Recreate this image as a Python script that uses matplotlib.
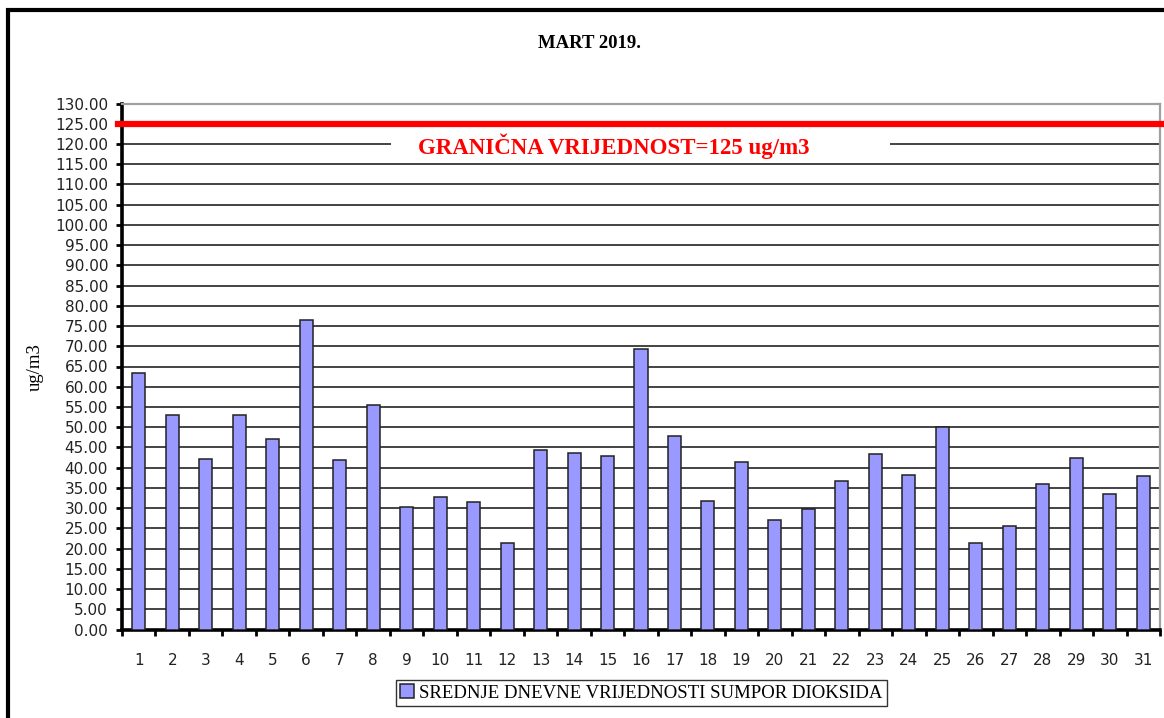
import numpy as np
import matplotlib
matplotlib.use("Agg")
import matplotlib.pyplot as plt
from matplotlib.patches import Rectangle

# Daily mean SO2 values, March 2019
days = list(range(1, 32))
values = [63.4, 53.0, 42.2, 53.0, 47.0, 76.6, 41.9, 55.4, 30.2, 32.7,
          31.5, 21.4, 44.3, 43.7, 42.8, 69.3, 47.9, 31.8, 41.4, 27.0,
          29.8, 36.8, 43.4, 38.3, 50.0, 21.3, 25.5, 35.9, 42.5, 33.5, 38.0]
LIMIT = 125

title = "MART 2019."
limit_label = "GRANIČNA VRIJEDNOST=125 ug/m3"
series_label = "SREDNJE DNEVNE VRIJEDNOSTI SUMPOR DIOKSIDA"
y_label = "ug/m3"

serif = ["Liberation Serif", "DejaVu Serif"]
sans = ["DejaVu Sans"]

fig = plt.figure(figsize=(11.64, 7.18), dpi=100)
ax = fig.add_axes([122 / 1164, 1 - 629.5 / 718, 1038 / 1164, 526 / 718])

# bars
bars = ax.bar(days, values, width=0.39, color="#9999ff", edgecolor="#222222",
              linewidth=1.1, zorder=3, label=series_label)

ax.set_xlim(0.5, 31.5)
ax.set_ylim(0, 130)
ax.set_yticks(np.arange(0, 131, 5))
ax.set_yticklabels([f"{v:.2f}" for v in np.arange(0, 131, 5)],
                   family=sans, fontsize=11, color="#222222")
ax.set_xticks(days)
ax.set_xticklabels([str(d) for d in days], family=sans, fontsize=11,
                   color="#222222")
ax.set_xticks(np.arange(0.5, 32, 1), minor=True)

ax.tick_params(axis="y", which="major", length=4, width=2, direction="out",
               pad=6, color="black")
ax.tick_params(axis="x", which="major", length=0, pad=17)
ax.tick_params(axis="x", which="minor", length=4, width=2, direction="out",
               color="black")

ax.set_axisbelow(True)
ax.yaxis.grid(True, color="#111111", linewidth=1.1)

for side in ["left", "bottom"]:
    ax.spines[side].set_color("black")
    ax.spines[side].set_linewidth(2.6)
for side in ["top", "right"]:
    ax.spines[side].set_color("#a0a0a0")
    ax.spines[side].set_linewidth(1.6)

# limit line
ax.plot([-0.004, 1.01], [LIMIT, LIMIT], transform=ax.get_yaxis_transform(),
        color="red", linewidth=4.5, clip_on=False, zorder=5)

# white box behind limit label
ax.add_patch(Rectangle((8.53, 117.0), 23.44 - 8.53, 5.0, facecolor="white",
                       edgecolor="none", zorder=4))
ax.text(0.474, 117.4, limit_label, transform=ax.get_yaxis_transform(),
        ha="center", va="baseline", color="red", fontsize=16.5,
        fontweight="bold", family=serif, zorder=6)

fig.text(590 / 1164, 1 - 43 / 718, title, ha="center", va="center",
         fontsize=13.5, fontweight="bold", family=serif)
fig.text(35 / 1164, 1 - 367 / 718, y_label, ha="center", va="center",
         rotation=90, fontsize=13.5, family=serif)

leg = fig.legend(handles=[bars], labels=[series_label], loc="center",
                 bbox_to_anchor=(641.5 / 1164, 1 - 693 / 718),
                 prop={"family": serif, "size": 13.5}, frameon=True,
                 fancybox=False, handlelength=0.7, handleheight=0.7,
                 handletextpad=0.3, borderpad=0.25, borderaxespad=0)
leg.get_frame().set_edgecolor("black")
leg.get_frame().set_linewidth(1.0)

# outer chart frame
fig.add_artist(Rectangle((8 / 1164, -0.1), 1.2, 1.1 - 10 / 718,
                         transform=fig.transFigure, fill=False,
                         edgecolor="black", linewidth=3))

fig.savefig("out.png", dpi=100)
